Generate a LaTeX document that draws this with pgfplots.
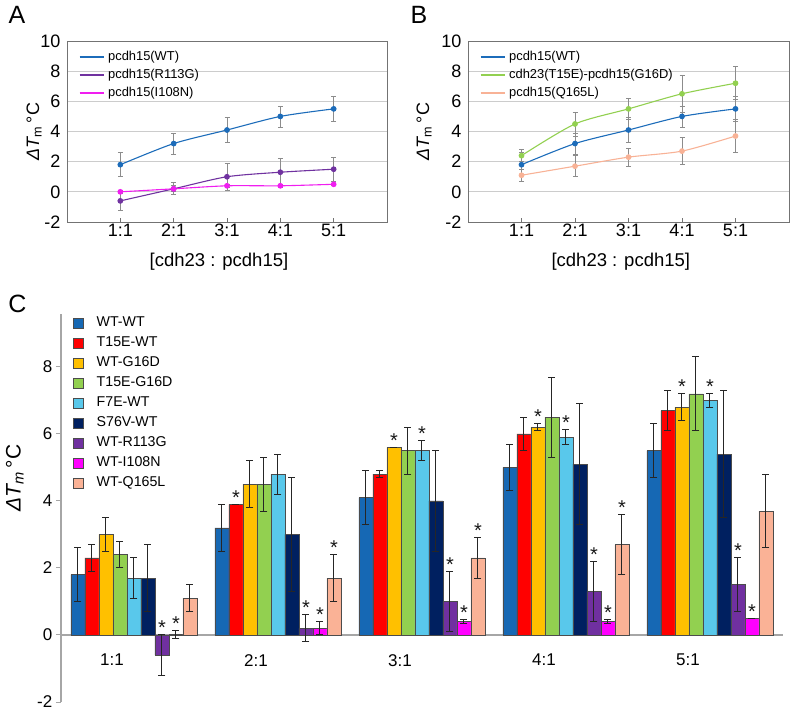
\documentclass[border=0pt]{standalone}
\usepackage{pgfplots}
\pgfplotsset{compat=1.18}
\usepackage{fontspec}
\setmainfont{Liberation Sans}
\definecolor{cWT}{RGB}{22,104,180}
\definecolor{cRed}{RGB}{255,0,0}
\definecolor{cGold}{RGB}{255,192,0}
\definecolor{cGreen}{RGB}{146,208,80}
\definecolor{cLBlue}{RGB}{89,200,235}
\definecolor{cNavy}{RGB}{0,32,96}
\definecolor{cPurple}{RGB}{112,48,160}
\definecolor{cMag}{RGB}{255,0,255}
\definecolor{cSalmon}{RGB}{250,178,150}
\definecolor{lWT}{RGB}{28,108,186}
\definecolor{lPurple}{RGB}{112,50,160}
\definecolor{lMag}{RGB}{240,30,240}
\definecolor{lGreen}{RGB}{146,208,80}
\definecolor{lSalmon}{RGB}{248,178,150}
\pgfplotsset{
  linechart/.style={
    scale only axis, width=320pt, height=181pt, anchor=south west,
    xmin=0, xmax=6, ymin=-2, ymax=10,
    xtick={1,2,3,4,5}, xticklabels={1:1,2:1,3:1,4:1,5:1},
    ytick={-2,0,2,4,6,8,10},
    ymajorgrids, grid style={black!20, line width=0.7pt},
    axis line style={black!55, line width=0.7pt},
    ytick style={draw=none},
    xtick style={black!55, line width=0.7pt}, xtick pos=left, tick align=inside, major tick length=4pt,
    /pgf/number format/assume math mode=true,
    tick label style={font=\fontsize{18}{20}\selectfont},
    xticklabel style={inner sep=1.5pt},
    yticklabel style={inner sep=1.5pt, xshift=-5pt},
    xlabel={\relax[cdh23 : pcdh15]},
    xlabel style={at={(axis description cs:0.475,-0.22)}, anchor=center, font=\fontsize{18.5}{20}\selectfont},
    ylabel={{\itshape ΔT}\textsubscript{m}\,°C},
    ylabel style={anchor=center, font=\fontsize{18}{20}\selectfont},
    legend style={at={(axis description cs:0.037,0.953)}, anchor=north west, draw=none, fill=none,
      font=\fontsize{12.9}{14}\selectfont, inner xsep=0pt, inner ysep=0pt, row sep=3.5pt,
      nodes={inner sep=1pt, text height=9.5pt, text depth=3pt},
      /tikz/every odd column/.append style={column sep=3pt}},
    legend cell align=left,
    legend image code/.code={\draw[##1] (0pt,0pt) -- (24pt,0pt);},
  },
  lineplot/.style={line width=1.1pt, mark=*, mark size=2.3pt, smooth, tension=0.45,
    error bars/y dir=both, error bars/y explicit,
    error bars/error bar style={black!45, line width=0.7pt},
    error bars/error mark options={rotate=90, black!45, line width=0.7pt, mark size=2.5pt}},
  cbar/.style={ybar, bar width=0.09722, bar shift=0pt, x filter/.expression={x+(#1)},
    draw=black!70, line width=0.5pt,
    error bars/y dir=both, error bars/y explicit,
    error bars/error bar style={black!85, line width=1pt},
    error bars/error mark options={rotate=90, black!85, line width=1pt, mark size=3.5pt},
    legend image code/.code={\draw[##1] (0pt,-5pt) rectangle (10pt,5pt);}},
  cstar/.style={ybar, bar width=0.09722, bar shift=0pt, x filter/.expression={x+(#1)},
    draw=none, fill=none, forget plot,
    nodes near coords={*},
    every node near coord/.append style={font=\fontsize{20}{20}\selectfont, inner sep=0pt, anchor=south, yshift=0pt, text=black!90}},
}
\begin{document}
\begin{tikzpicture}
\useasboundingbox (0pt,0pt) rectangle (791pt,710pt);
\node[font=\fontsize{25}{25}\selectfont] at (17pt,695pt) {A};
\node[font=\fontsize{25}{25}\selectfont] at (419pt,695pt) {B};
\node[font=\fontsize{25}{25}\selectfont] at (17.5pt,406pt) {C};
% ---------------- A
\begin{axis}[linechart, at={(67pt,488pt)},
  ylabel style={at={(axis description cs:-0.103,0.5)}}]
\addplot[lineplot, color=lWT] coordinates {
 (1,1.8) +- (0,0.8) (2,3.2) +- (0,0.7) (3,4.1) +- (0,0.83) (4,5.0) +- (0,0.7) (5,5.5) +- (0,0.8)};
\addlegendentry{pcdh15(WT)}
\addplot[lineplot, color=lPurple] coordinates {
 (1,-0.6) +- (0,0.6) (2,0.2) +- (0,0.4) (3,1.0) +- (0,0.9) (4,1.3) +- (0,0.9) (5,1.5) +- (0,0.8)};
\addlegendentry{pcdh15(R113G)}
\addplot[lineplot, color=lMag] coordinates {
 (1,0.0) +- (0,0.1) (2,0.2) +- (0,0.2) (3,0.4) +- (0,0.1) (4,0.4) +- (0,0.08) (5,0.5) +- (0,0.05)};
\addlegendentry{pcdh15(I108N)}
\end{axis}
% ---------------- B
\begin{axis}[linechart, at={(468pt,488pt)}, width=321pt,
  ylabel style={at={(axis description cs:-0.137,0.5)}},
  xlabel style={at={(axis description cs:0.476,-0.22)}},
  legend style={at={(axis description cs:0.037,0.953)}}]
\addplot[lineplot, color=lWT] coordinates {
 (1,1.8) +- (0,0.8) (2,3.2) +- (0,0.7) (3,4.1) +- (0,0.83) (4,5.0) +- (0,0.7) (5,5.5) +- (0,0.8)};
\addlegendentry{pcdh15(WT)}
\addplot[lineplot, color=lGreen] coordinates {
 (1,2.4) +- (0,0.4) (2,4.5) +- (0,0.8) (3,5.5) +- (0,0.7) (4,6.5) +- (0,1.2) (5,7.2) +- (0,1.1)};
\addlegendentry{cdh23(T15E)-pcdh15(G16D)}
\addplot[lineplot, color=lSalmon] coordinates {
 (1,1.1) +- (0,0.4) (2,1.7) +- (0,0.7) (3,2.3) +- (0,0.6) (4,2.7) +- (0,0.9) (5,3.7) +- (0,1.1)};
\addlegendentry{pcdh15(Q165L)}
\end{axis}
% ---------------- C
\begin{axis}[at={(61pt,8pt)}, anchor=south west, scale only axis, width=722pt, height=388pt,
  xmin=-0.354, xmax=4.660, ymin=-2, ymax=9.58,
  axis x line=middle, axis y line=left, axis line style={-, black!35, line width=1.1pt},
  hide obscured y ticks=false, hide obscured x ticks=false,
  xtick={0,1,2,3,4}, xticklabels={1:1,2:1,3:1,4:1,5:1}, xtick style={draw=none},
  ytick={-2,0,2,4,6,8}, ytick style={black!35, line width=1pt}, tick align=outside, major tick length=5pt,
  /pgf/number format/assume math mode=true,
  tick label style={font=\fontsize{17}{19}\selectfont},
  xticklabel style={inner sep=0pt, yshift=-14pt},
  yticklabel style={inner sep=1.5pt, xshift=-2pt},
  ylabel={{\itshape ΔT\textsubscript{m}}\,°C},
  ylabel style={at={(axis description cs:-0.064,0.577)}, anchor=center, font=\fontsize{21}{23}\selectfont},
  legend style={at={(axis description cs:0.0166,0.997)}, anchor=north west, draw=none, fill=none,
    font=\fontsize{14.2}{16}\selectfont, inner xsep=0pt, inner ysep=0pt, row sep=4.5pt,
    nodes={inner sep=1pt, text height=10.5pt, text depth=3pt},
    /tikz/every odd column/.append style={column sep=12pt}},
  legend cell align=left,
  ]
\addplot[cbar=-0.2361, fill=cWT] coordinates {(0,1.8) +- (0,0.8) (1,3.2) +- (0,0.7) (2,4.1) +- (0,0.8) (3,5.0) +- (0,0.7) (4,5.5) +- (0,0.8)};
\addlegendentry{WT-WT}
\addplot[cbar=-0.1389, fill=cRed] coordinates {(0,2.3) +- (0,0.4) (1,3.9) +- (0,0) (2,4.8) +- (0,0.1) (3,6.0) +- (0,0.5) (4,6.7) +- (0,0.6)};
\addlegendentry{T15E-WT}
\addplot[cbar=-0.0417, fill=cGold] coordinates {(0,3.0) +- (0,0.5) (1,4.5) +- (0,0.7) (2,5.6) +- (0,0) (3,6.2) +- (0,0.1) (4,6.8) +- (0,0.4)};
\addlegendentry{WT-G16D}
\addplot[cbar=0.0556, fill=cGreen] coordinates {(0,2.4) +- (0,0.4) (1,4.5) +- (0,0.8) (2,5.5) +- (0,0.7) (3,6.5) +- (0,1.2) (4,7.2) +- (0,1.1)};
\addlegendentry{T15E-G16D}
\addplot[cbar=0.1528, fill=cLBlue] coordinates {(0,1.7) +- (0,0.6) (1,4.8) +- (0,0.6) (2,5.5) +- (0,0.3) (3,5.9) +- (0,0.22) (4,7.0) +- (0,0.2)};
\addlegendentry{F7E-WT}
\addplot[cbar=0.25, fill=cNavy] coordinates {(0,1.7) +- (0,1.0) (1,3.0) +- (0,1.7) (2,4.0) +- (0,1.5) (3,5.1) +- (0,1.8) (4,5.4) +- (0,1.9)};
\addlegendentry{S76V-WT}
\addplot[cbar=0.3472, fill=cPurple] coordinates {(0,-0.6) +- (0,0.6) (1,0.2) +- (0,0.4) (2,1.0) +- (0,0.9) (3,1.3) +- (0,0.9) (4,1.5) +- (0,0.8)};
\addlegendentry{WT-R113G}
\addplot[cbar=0.4444, fill=cMag] coordinates {(0,0.02) +- (0,0.11) (1,0.2) +- (0,0.2) (2,0.4) +- (0,0.07) (3,0.4) +- (0,0.07) (4,0.5) +- (0,0)};
\addlegendentry{WT-I108N}
\addplot[cbar=0.5417, fill=cSalmon] coordinates {(0,1.1) +- (0,0.4) (1,1.7) +- (0,0.7) (2,2.3) +- (0,0.6) (3,2.7) +- (0,0.9) (4,3.7) +- (0,1.1)};
\addlegendentry{WT-Q165L}
% significance marks
\addplot[cstar=-0.1389] coordinates {(1,3.9)};
\addplot[cstar=-0.0417] coordinates {(2,5.6) (3,6.3) (4,7.2)};
\addplot[cstar=0.1528] coordinates {(2,5.8) (3,6.12) (4,7.2)};
\addplot[cstar=0.3472] coordinates {(0,0.01) (1,0.6) (2,1.9) (3,2.2) (4,2.3)};
\addplot[cstar=0.4444] coordinates {(0,0.13) (1,0.4) (2,0.47) (3,0.47) (4,0.5)};
\addplot[cstar=0.5417] coordinates {(1,2.4) (2,2.9) (3,3.6)};
\end{axis}
\end{tikzpicture}
\end{document}
